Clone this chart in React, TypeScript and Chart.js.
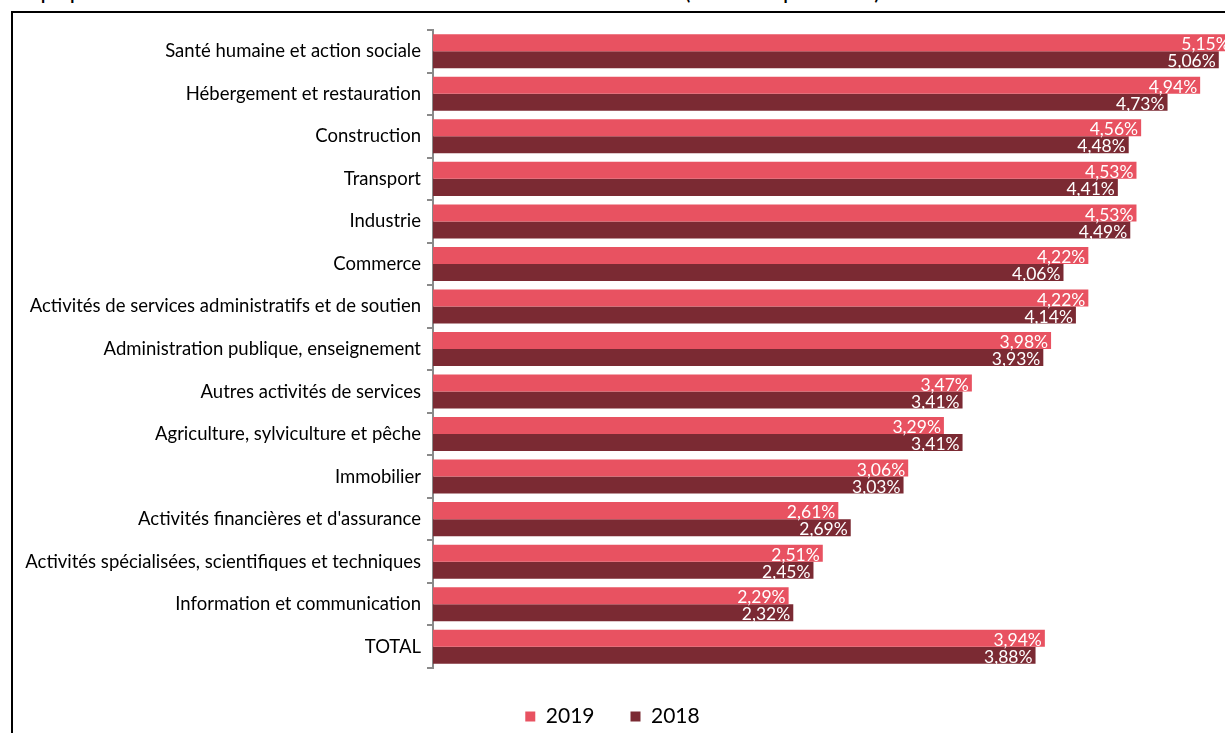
import React, { useEffect, useRef } from "react";
import { Chart, registerables } from "chart.js";

Chart.register(...registerables);

const categories = [
  "Santé humaine et action sociale",
  "Hébergement et restauration",
  "Construction",
  "Transport",
  "Industrie",
  "Commerce",
  "Activités de services administratifs et de soutien",
  "Administration publique, enseignement",
  "Autres activités de services",
  "Agriculture, sylviculture et pêche",
  "Immobilier",
  "Activités financières et d'assurance",
  "Activités spécialisées, scientifiques et techniques",
  "Information et communication",
  "TOTAL",
];

const values2019 = [5.15, 4.94, 4.56, 4.53, 4.53, 4.22, 4.22, 3.98, 3.47, 3.29, 3.06, 2.61, 2.51, 2.29, 3.94];
const values2018 = [5.06, 4.73, 4.48, 4.41, 4.49, 4.06, 4.14, 3.93, 3.41, 3.41, 3.03, 2.69, 2.45, 2.32, 3.88];

const seriesLabels = ["2019", "2018"];
const titleText =
  "Graphique 1 : Taux d'absentéisme des salariés selon le secteur d'activité en 2018 et 2019 (en % du temps de travail)";

const FONT = "Lato, 'DejaVu Sans', sans-serif";

const fmt = (v: number) => v.toFixed(2).replace(".", ",") + "%";

const dataLabelPlugin = {
  id: "dataLabels",
  afterDatasetsDraw(chart: any) {
    const ctx = chart.ctx;
    ctx.save();
    ctx.fillStyle = "#ffffff";
    ctx.font = `17.5px ${FONT}`;
    ctx.textAlign = "right";
    ctx.textBaseline = "middle";
    chart.data.datasets.forEach((ds: any, di: number) => {
      const meta = chart.getDatasetMeta(di);
      meta.data.forEach((el: any, i: number) => {
        ctx.fillText(fmt(ds.data[i]), el.x - 3, el.y + 2);
      });
    });
    ctx.restore();
  },
};

export default function App() {
  const canvasRef = useRef<HTMLCanvasElement | null>(null);

  useEffect(() => {
    if (!canvasRef.current) return;
    const chart = new Chart(canvasRef.current, {
      type: "bar",
      data: {
        labels: categories,
        datasets: [
          {
            label: seriesLabels[0],
            data: values2019,
            backgroundColor: "#E85261",
            categoryPercentage: 0.8,
            barPercentage: 1.0,
          },
          {
            label: seriesLabels[1],
            data: values2018,
            backgroundColor: "#7B2A33",
            categoryPercentage: 0.8,
            barPercentage: 1.0,
          },
        ],
      },
      options: {
        indexAxis: "y",
        responsive: false,
        animation: false,
        layout: { padding: { top: 30, left: 0, right: 0, bottom: 3 } },
        scales: {
          x: {
            display: true,
            min: 0,
            max: 5.1,
            ticks: { display: false },
            grid: { display: false },
            border: { display: false },
            afterFit: (s: any) => {
              s.height = 2;
            },
          },
          y: {
            type: "category",
            ticks: {
              color: "#000",
              font: { family: FONT, size: 18.5 },
              padding: 6,
            },
            grid: {
              display: true,
              drawOnChartArea: false,
              drawTicks: true,
              tickLength: 6,
              offset: true,
              color: "#8a8a8a",
              lineWidth: 2,
            },
            border: { display: true, color: "#8a8a8a", width: 2 },
            afterFit: (s: any) => {
              s.width = 433;
            },
          },
        },
        plugins: {
          legend: {
            display: true,
            position: "bottom",
            labels: {
              boxWidth: 10,
              boxHeight: 10,
              padding: 36,
              color: "#000",
              font: { family: FONT, size: 21 },
            },
          },
          tooltip: { enabled: false },
          title: { display: false },
        },
      },
      plugins: [dataLabelPlugin],
    });
    return () => chart.destroy();
  }, []);

  return (
    <div
      style={{
        position: "fixed",
        left: 0,
        top: 0,
        width: 1225,
        height: 733,
        overflow: "hidden",
        background: "#fff",
      }}
    >
      <div
        style={{
          position: "absolute",
          left: 14,
          top: -17,
          whiteSpace: "nowrap",
          font: `bold 17px ${FONT}`,
          color: "#000",
        }}
      >
        {titleText}
      </div>
      <div
        style={{
          position: "absolute",
          left: 11,
          top: 11,
          width: 1400,
          height: 900,
          border: "2px solid #000",
        }}
      />
      <canvas
        ref={canvasRef}
        width={1225}
        height={740}
        style={{ position: "absolute", left: 0, top: 0, width: 1225, height: 740 }}
      />
    </div>
  );
}
